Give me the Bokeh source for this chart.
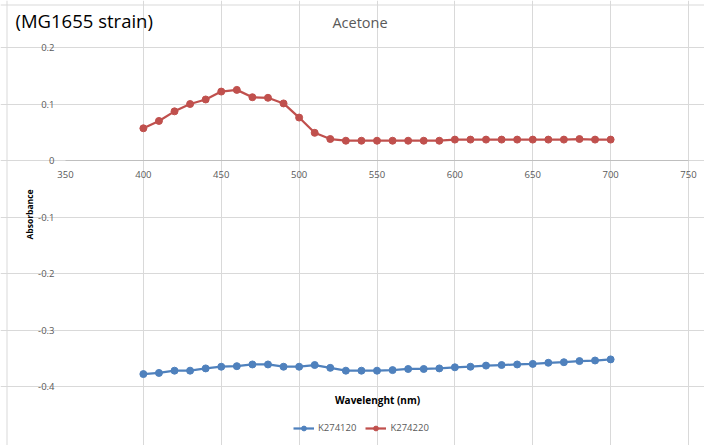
import math
from bokeh.plotting import figure
from bokeh.models import Range1d, FixedTicker, Label, Legend, LegendItem, Span
from bokeh.embed import file_html
from bokeh.resources import INLINE

wavelength = [400, 410, 420, 430, 440, 450, 460, 470, 480, 490, 500, 510, 520, 530, 540, 550,
              560, 570, 580, 590, 600, 610, 620, 630, 640, 650, 660, 670, 680, 690, 700]
k274120 = [-0.378, -0.376, -0.372, -0.372, -0.368, -0.365, -0.364, -0.361, -0.361, -0.365, -0.365,
           -0.362, -0.367, -0.372, -0.372, -0.372, -0.371, -0.369, -0.369, -0.368, -0.366, -0.365,
           -0.363, -0.362, -0.361, -0.360, -0.358, -0.357, -0.355, -0.354, -0.352]
k274220 = [0.057, 0.070, 0.087, 0.100, 0.108, 0.122, 0.125, 0.112, 0.111, 0.101, 0.076, 0.049,
           0.038, 0.035, 0.035, 0.035, 0.035, 0.035, 0.035, 0.035, 0.037, 0.037, 0.037, 0.037,
           0.037, 0.037, 0.037, 0.037, 0.038, 0.037, 0.037]
x_ticks = [350, 400, 450, 500, 550, 600, 650, 700, 750]
y_ticks = [-0.4, -0.3, -0.2, -0.1, 0, 0.1, 0.2]
y_tick_labels = ["-0.4", "-0.3", "-0.2", "-0.1", "0", "0.1", "0.2"]
series_names = ["K274120", "K274220"]
colors = ["#4F81BD", "#C0504D"]

FONT = "Open Sans"
GRID = "#d9d9d9"
TXT = "#595959"

# canvas size and plot-area pixel box (canvas coordinates)
W, H = 704, 445
X0, X1 = x_ticks[0], x_ticks[-1]
Y0, Y1 = y_ticks[0], y_ticks[-1]
PL, PR, PT, PB = 65, 688, 47, 386
sx = (PR - PL) / (X1 - X0)
sy = (PB - PT) / (Y1 - Y0)
xr = Range1d(X0 - PL / sx, X1 + (W - PR) / sx)
yr = Range1d(Y0 - (H - PB) / sy, Y1 + PT / sy)


def dx(px):
    return xr.start + px / sx


def dy(py):
    return yr.end - py / sy


p = figure(width=W, height=H, x_range=xr, y_range=yr, title=None,
           output_backend="svg", toolbar_location=None,
           min_border=0, min_border_left=0, min_border_right=0,
           min_border_top=0, min_border_bottom=0)
p.outline_line_color = None
p.background_fill_color = "white"
p.border_fill_color = "white"

# chart-area border (left and top edges are inside the window)
p.add_layout(Span(location=dx(6.5), dimension="height", line_color=GRID, line_width=1))
p.add_layout(Span(location=dy(4.5), dimension="width", line_color=GRID, line_width=1))

p.xaxis.ticker = FixedTicker(ticks=x_ticks)
p.xaxis.fixed_location = 0
p.xaxis.bounds = (X0, X1)
p.xaxis.axis_line_color = "#bfbfbf"
p.xaxis.major_tick_line_color = None
p.xaxis.minor_tick_line_color = None
p.xaxis.major_tick_out = 0
p.xaxis.major_tick_in = 0
p.xaxis.major_label_standoff = 10
p.xaxis.major_label_text_font = FONT
p.xaxis.major_label_text_font_size = "9.5px"
p.xaxis.major_label_text_color = TXT

p.yaxis.ticker = FixedTicker(ticks=y_ticks)
p.yaxis.fixed_location = X0
p.yaxis.bounds = (Y0, Y1)
p.yaxis.major_label_overrides = {t: l for t, l in zip(y_ticks, y_tick_labels)}
p.yaxis.axis_line_color = None
p.yaxis.major_tick_line_color = None
p.yaxis.minor_tick_line_color = None
p.yaxis.major_tick_out = 0
p.yaxis.major_tick_in = 0
p.yaxis.major_label_standoff = 11
p.yaxis.major_label_text_font = FONT
p.yaxis.major_label_text_font_size = "9.5px"
p.yaxis.major_label_text_color = TXT

p.xgrid.ticker = FixedTicker(ticks=x_ticks[1:])
p.xgrid.bounds = (Y0, Y1)
p.xgrid.grid_line_color = GRID
p.ygrid.ticker = FixedTicker(ticks=y_ticks)
p.ygrid.bounds = (X0, X1)
p.ygrid.grid_line_color = GRID

items = []
for name, ys, c in zip(series_names, [k274120, k274220], colors):
    l = p.line(wavelength, ys, line_color=c, line_width=2.25)
    s = p.scatter(wavelength, ys, marker="circle", size=7, fill_color=c, line_color=c)
    items.append(LegendItem(label=name, renderers=[l, s]))

legend = Legend(items=items, orientation="horizontal", location=(293, 11),
                glyph_width=21, glyph_height=12, label_height=12, label_standoff=4, spacing=9,
                padding=0, margin=0, border_line_color=None, background_fill_alpha=0,
                label_text_font=FONT, label_text_font_size="9.5px", label_text_color=TXT)
p.add_layout(legend, "center")

p.add_layout(Label(x=dx(15), y=dy(20), text="(MG1655 strain)",
                   text_font=FONT, text_font_size="18.5px", text_color="black",
                   text_baseline="middle", text_align="left"))
p.add_layout(Label(x=dx(359.5), y=dy(22), text="Acetone",
                   text_font=FONT, text_font_size="14.5px", text_color=TXT,
                   text_baseline="middle", text_align="center"))
p.add_layout(Label(x=dx(29), y=dy(214), text="Absorbance",
                   angle=math.pi / 2, text_font=FONT, text_font_size="8.5px", text_font_style="bold",
                   text_color="black", text_baseline="middle", text_align="center"))
p.add_layout(Label(x=dx(377), y=dy(399), text="Wavelenght (nm)",
                   text_font=FONT, text_font_size="10px", text_font_style="bold",
                   text_color="black", text_baseline="middle", text_align="center"))

open("out.html", "w").write(file_html(p, INLINE))
